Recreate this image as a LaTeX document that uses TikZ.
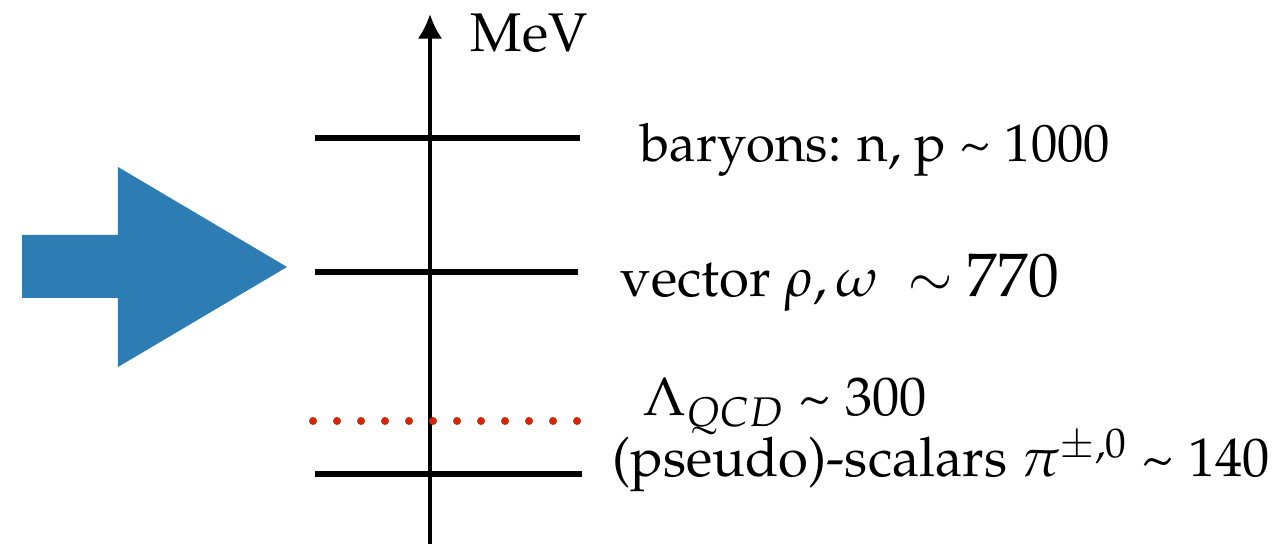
\documentclass[tikz,border=0pt]{standalone}
\usepackage[T1]{fontenc}
\usepackage{amsmath,amssymb}
\usepackage{mathpazo}
\usepackage{tikz}
\usetikzlibrary{arrows.meta}
\usepackage{xcolor}
\definecolor{arrowblue}{RGB}{45,125,180}
\definecolor{dotred}{RGB}{210,40,10}

\begin{document}
\begin{tikzpicture}[scale=1,
    level/.style={line width=1.5pt},
    lbl/.style={anchor=base west, inner sep=0pt, font=\fontsize{15.5}{18}\selectfont}]
  \useasboundingbox (0,0) rectangle (12.75,5.44);
  % --- energy axis at x=4.3 ---
  \coordinate (axbot) at (4.30,0);
  \coordinate (axtop) at (4.30,5.30);
  \draw[line width=1.2pt,-{Latex[length=7pt,width=7pt]}] (axbot) -- (axtop);
  \node[lbl] (mev) at (4.70,4.92) {MeV};
  % --- levels: baryons, vector, pseudo-scalars ---
  \coordinate (b1) at (3.15,4.06); \coordinate (b2) at (5.80,4.06);
  \coordinate (v1) at (3.15,2.72); \coordinate (v2) at (5.78,2.72);
  \coordinate (p1) at (3.15,0.70); \coordinate (p2) at (5.82,0.70);
  \draw[level] (b1) -- (b2);
  \draw[level] (v1) -- (v2);
  \draw[level] (p1) -- (p2);
  % Lambda_QCD: row of red dots, 12 of them
  \foreach \i in {0,...,11}
    \fill[dotred] (3.13+0.24*\i,1.23) circle (0.04);
  % Level labels — baselines
  \node[lbl,font=\fontsize{15}{18}\selectfont] (baryons) at (6.40,3.82) {baryons: n, p \textasciitilde\ 1000};
  \node[lbl] (vector)  at (6.20,2.47) {vector $\rho,\omega\ \sim$\ {\fontsize{17.5}{20}\selectfont 770}};
  \node[lbl] (lqcd)    at (6.42,1.28) {$\Lambda_{QCD}$ \textasciitilde\ 300};
  \node[lbl] (pions)   at (6.12,0.67) {(pseudo)-scalars $\pi^{\pm,0}$ \textasciitilde\ 140};
  % big blue arrow pointing at the vector level
  \fill[arrowblue] (0.22,3.09) -- (1.18,3.09) -- (1.18,3.77) -- (2.87,2.77)
    -- (1.18,1.77) -- (1.18,2.46) -- (0.22,2.46) -- cycle;
\end{tikzpicture}
\end{document}
